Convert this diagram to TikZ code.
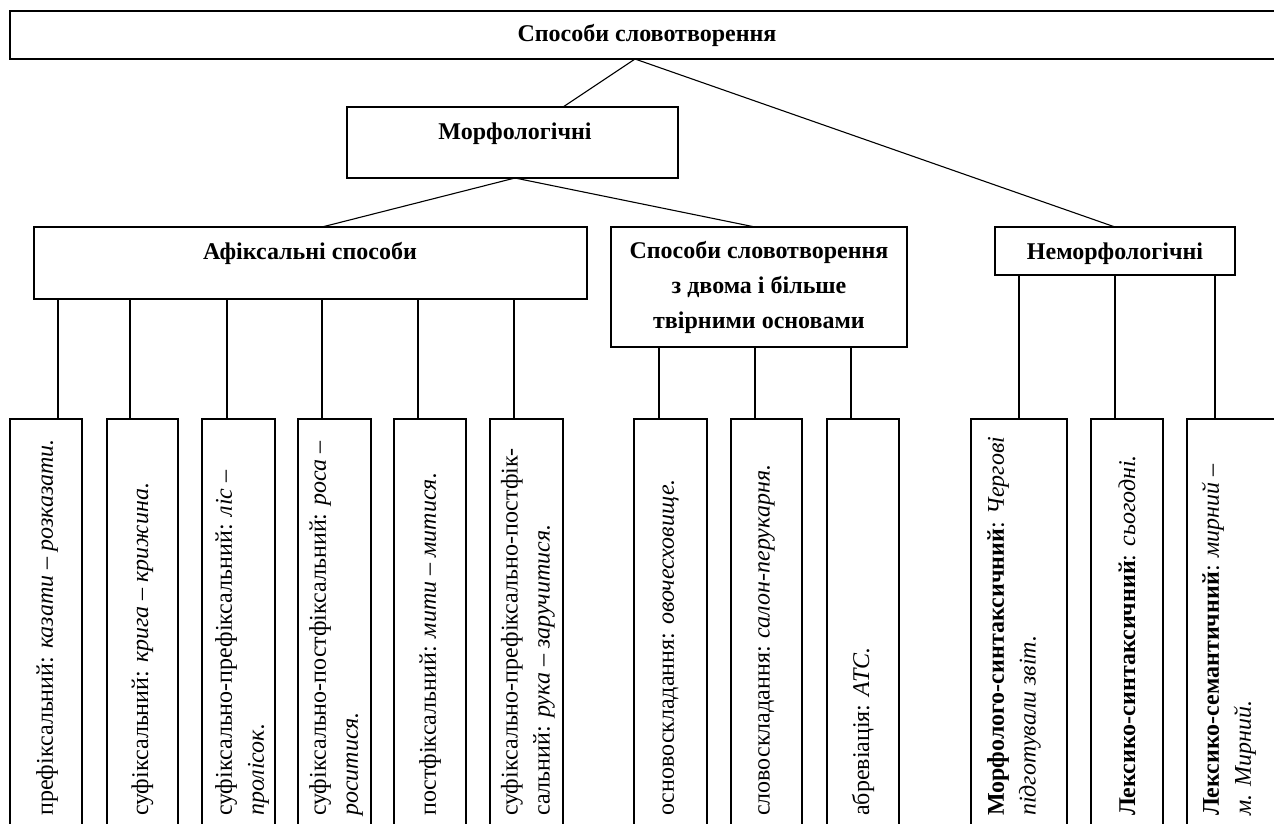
\documentclass[tikz,border=0pt]{standalone}
\usepackage{fontspec}
\setmainfont{Liberation Serif}
\begin{document}
\begin{tikzpicture}[x=1pt,y=-1pt,
  frame/.style={draw, rectangle, line width=1.1pt, inner sep=0pt, outer sep=0pt},
  head/.style={font=\fontsize{24}{35}\selectfont\bfseries, align=center, inner sep=0pt},
  leaf/.style={font=\fontsize{24}{32}\selectfont, align=left, rotate=90, anchor=west, inner sep=0pt},
  link/.style={line width=1.1pt}]
\useasboundingbox (0,0) rectangle (1274,823);
\fill[white] (0,0) rectangle (1274,823);
\clip (0,0) rectangle (1274,823);

% upper levels
\node[frame, line width=1.5pt, minimum width=1274pt, minimum height=48pt] (top) at (647,35) {};
\node[head] (topT) at (647,35) {Способи словотворення};

\node[frame, minimum width=331pt, minimum height=71pt] (morph) at (512.5,142.5) {};
\node[head] (morphT) at (515,134) {Морфологічні};

\node[frame, minimum width=553pt, minimum height=72pt] (afiks) at (310.5,263) {};
\node[head] (afiksT) at (310,253) {Афіксальні способи};

\node[frame, minimum width=296pt, minimum height=120pt] (comp) at (759,287) {};
\node[head] (compT) at (759,287) {Способи словотворення\\з двома і більше\\твірними основами};

\node[frame, minimum width=240pt, minimum height=48pt] (nonm) at (1115,251) {};
\node[head] (nonmT) at (1115,254) {Неморфологічні};

\draw[link] (top.south -| 635,0) -- (morph.north -| 563,0);
\draw[link] (top.south -| 635,0) -- (nonm.north);
\draw[link] (morph.south -| 515,0) -- (afiks.north -| 322,0);
\draw[link] (morph.south -| 515,0) -- (comp.north -| 755,0);

% lower level: tall boxes hanging from their groups
\foreach \n/\l/\r/\c/\p in {
  b1/10/82/58/afiks, b2/107/178/130/afiks, b3/202/275/227/afiks,
  b4/298/371/322/afiks, b5/394/466/418/afiks, b6/490/563/514/afiks,
  b7/634/707/659/comp, b8/731/802/755/comp, b9/827/899/851/comp,
  b10/971/1067/1019/nonm, b11/1091/1163/1115/nonm, b12/1187/1279/1215/nonm} {
  \pgfmathsetmacro{\w}{\r-\l}
  \pgfmathsetmacro{\m}{(\r+\l)/2}
  \node[frame, minimum width=\w pt, minimum height=431pt] (\n) at (\m,634.5) {};
  \draw[link] (\p.south -| \c,0) -- (\n.north -| \c,0);
}

\node[leaf] (t1) at (47,816) {префіксальний: \textit{казати – розказати.}};
\node[leaf] (t2) at (142.5,816) {суфіксальний: \textit{крига – крижина.}};
\node[leaf] (t3) at (242,816) {суфіксально-префіксальний: \textit{ліс –}\\\textit{пролісок.}};
\node[leaf] (t4) at (336,816) {суфіксально-постфіксальний: \textit{роса –}\\\textit{роситися.}};
\node[leaf] (t5) at (430,816) {постфіксальний: \textit{мити – митися.}};
\node[leaf] (t6) at (528,816) {суфіксально-префіксально-постфік-\\сальний: \textit{рука – заручитися.}};
\node[leaf] (t7) at (670.5,816) {основоскладання: \textit{овочесховище.}};
\node[leaf] (t8) at (766.5,816) {словоскладання: \textit{салон-перукарня.}};
\node[leaf] (t9) at (863,816) {абревіація: \textit{АТС.}};
\node[leaf] (t10) at (1014,816) {\textbf{Морфолого-синтаксичний}: \textit{Чергові}\\\textit{підготували звіт.}};
\node[leaf] (t11) at (1127,816) {\textbf{Лексико-синтаксичний}: \textit{сьогодні.}};
\node[leaf] (t12) at (1229,816) {\textbf{Лексико-семантичний}: \textit{мирний –}\\\textit{м. Мирний.}};
\end{tikzpicture}
\end{document}
